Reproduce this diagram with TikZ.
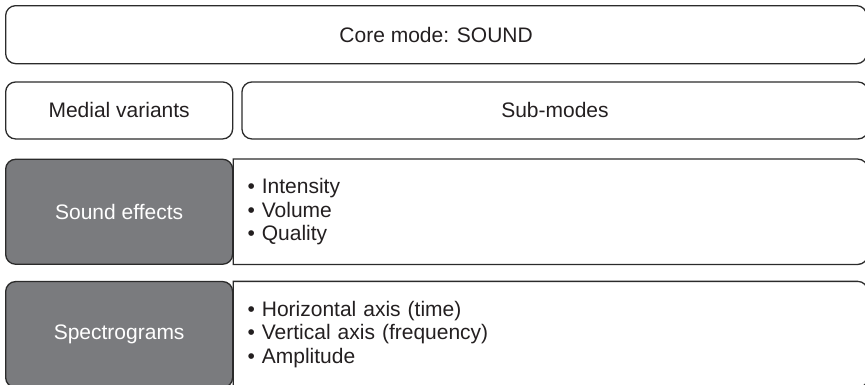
\documentclass[tikz,border=0pt]{standalone}
\usepackage{fontspec}
\setmainfont{Liberation Sans}
\usetikzlibrary{positioning}
\definecolor{edge}{HTML}{2B2B2B}
\definecolor{shade}{HTML}{7A7B7E}
\definecolor{ink}{HTML}{231F20}

\begin{document}
\begin{tikzpicture}[
    x=1pt, y=1pt,
    box/.style={rectangle, draw=edge, line width=1.3pt, rounded corners=10pt,
                minimum height=57pt, inner sep=0pt, text=ink,
                font=\fontsize{21}{23.5}\selectfont},
    variant/.style={box, fill=shade, text=white, minimum width=227pt},
    features/.style={rectangle, minimum width=634pt, inner xsep=14pt, inner ysep=0pt,
                     text width=606pt, align=left, text=ink,
                     font=\fontsize{21}{23.5}\selectfont},
    outline/.style={draw=edge, line width=1.3pt}
]
\useasboundingbox (0,0) rectangle (865,-384);

% Header rows
\node[box, minimum width=861pt, minimum height=58pt, anchor=north west] (core) at (5,-5) {Core mode: SOUND};
\node[box, minimum width=227pt, below=17pt of core.south west, anchor=north west] (medial) {Medial variants};
\node[box, minimum width=626pt, right=8pt of medial] (submodes) {Sub-modes};

% Sound effects
\node[variant, minimum height=105pt, below=19pt of medial] (effects) {Sound effects};
\node[features, minimum height=105pt, right=0pt of effects] (effectslist) {• Intensity\\• Volume\\• Quality};

% Spectrograms
\node[variant, minimum height=106pt, below=16pt of effects] (spectro) {Spectrograms};
\node[features, minimum height=106pt, right=0pt of spectro] (spectrolist) {• Horizontal axis (time)\\• Vertical axis (frequency)\\• Amplitude};

% List frames: square on the left, rounded on the right
\draw[outline] (effectslist.north west) -- ([xshift=-10pt]effectslist.north east)
    arc[start angle=90, end angle=0, radius=10pt] -- ([yshift=10pt]effectslist.south east)
    arc[start angle=0, end angle=-90, radius=10pt] -- (effectslist.south west) -- cycle;
\draw[outline] (spectrolist.north west) -- ([xshift=-10pt]spectrolist.north east)
    arc[start angle=90, end angle=0, radius=10pt] -- ([yshift=10pt]spectrolist.south east)
    arc[start angle=0, end angle=-90, radius=10pt] -- (spectrolist.south west) -- cycle;

\end{tikzpicture}
\end{document}
